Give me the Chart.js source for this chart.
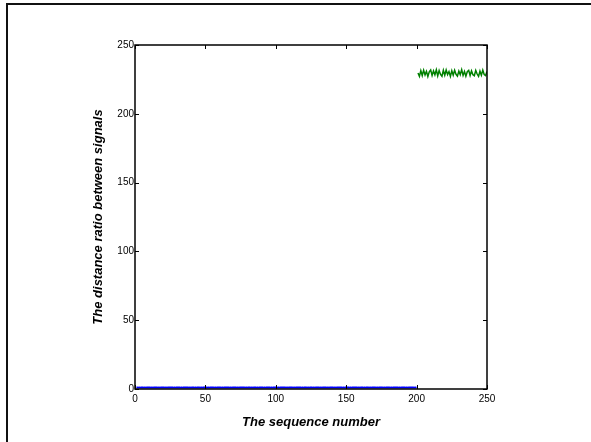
<!DOCTYPE html>
<html>
<head>
<meta charset="utf-8">
<script src="https://cdn.jsdelivr.net/npm/chart.js@4"></script>
<style>
html,body{margin:0;padding:0;background:#fff;overflow:hidden;}
#wrap{position:relative;width:591px;height:442px;}
#frame{position:absolute;left:6px;top:3px;width:600px;height:460px;border:2px solid #111;box-sizing:border-box;}
canvas{position:absolute;left:0;top:0;}
</style>
</head>
<body>
<div id="wrap">
<div id="frame"></div>
<canvas id="c" width="591" height="442"></canvas>
</div>
<script>
// Tick labels
const xTicks = [0, 50, 100, 150, 200, 250];
const yTicks = [0, 50, 100, 150, 200, 250];

// Blue series: sequence 1..200
const blueX = [];
for (let i = 1; i <= 200; i++) blueX.push(i);
const blueY = [
1.0,1.0,1.1,1.0,1.0,1.0,1.1,1.0,1.0,1.0,1.0,1.1,1.0,1.0,1.0,1.0,1.1,1.0,1.0,1.0,
1.0,1.1,1.0,1.0,1.0,1.0,1.0,1.1,1.0,1.0,1.0,1.0,1.1,1.0,1.0,1.0,1.0,1.0,1.1,1.0,
1.0,1.0,1.1,1.0,1.0,1.0,1.1,1.0,1.0,1.0,1.0,1.1,1.0,1.0,1.0,1.0,1.1,1.0,1.0,1.0,
1.0,1.1,1.0,1.0,1.0,1.0,1.0,1.1,1.0,1.0,1.0,1.0,1.1,1.0,1.0,1.0,1.0,1.0,1.1,1.0,
1.0,1.0,1.1,1.0,1.0,1.0,1.1,1.0,1.0,1.0,1.0,1.1,1.0,1.0,1.0,1.0,1.1,1.0,1.0,1.0,
1.0,1.1,1.0,1.0,1.0,1.0,1.0,1.1,1.0,1.0,1.0,1.0,1.1,1.0,1.0,1.0,1.0,1.0,1.1,1.0,
1.0,1.0,1.1,1.0,1.0,1.0,1.1,1.0,1.0,1.0,1.0,1.1,1.0,1.0,1.0,1.0,1.1,1.0,1.0,1.0,
1.0,1.1,1.0,1.0,1.0,1.0,1.0,1.1,1.0,1.0,1.0,1.0,1.1,1.0,1.0,1.0,1.0,1.0,1.1,1.0,
1.0,1.0,1.1,1.0,1.0,1.0,1.1,1.0,1.0,1.0,1.0,1.1,1.0,1.0,1.0,1.0,1.1,1.0,1.0,1.0,
1.0,1.1,1.0,1.0,1.0,1.0,1.0,1.1,1.0,1.0,1.0,1.0,1.1,1.0,1.0,1.0,1.0,1.0,1.1,1.0
];

// Green series: sequence 201..250
const greenX = [];
for (let i = 201; i <= 250; i++) greenX.push(i);
const greenY = [
229.6,227.2,231.4,227.8,231.7,228.3,230.9,227.1,230.5,231.9,
227.9,231.2,228.4,232.0,227.5,231.4,228.6,227.3,231.6,228.0,
231.8,228.5,230.7,227.2,231.3,228.1,231.7,228.7,227.4,231.0,
228.5,232.1,227.9,230.8,227.3,230.6,231.6,227.8,231.2,228.4,
227.7,231.5,228.9,227.2,231.0,228.1,231.8,228.5,227.8,230.7
];

const blueData = blueX.map((x, i) => ({x: x, y: blueY[i]}));
const greenData = greenX.map((x, i) => ({x: x, y: greenY[i]}));

const FONT = "'Liberation Sans', Arial, sans-serif";

const boxTicks = {
  id: 'boxTicks',
  afterDraw(chart) {
    const {ctx, chartArea: a, scales} = chart;
    ctx.save();
    ctx.strokeStyle = '#000';
    ctx.lineWidth = 1;
    const L = 4;
    ctx.beginPath();
    xTicks.forEach(v => {
      const px = Math.round(scales.x.getPixelForValue(v)) + 0.5;
      ctx.moveTo(px, a.bottom); ctx.lineTo(px, a.bottom - L);
      ctx.moveTo(px, a.top); ctx.lineTo(px, a.top + L);
    });
    yTicks.forEach(v => {
      const py = Math.round(scales.y.getPixelForValue(v)) + 0.5;
      ctx.moveTo(a.left, py); ctx.lineTo(a.left + L, py);
      ctx.moveTo(a.right, py); ctx.lineTo(a.right - L, py);
    });
    ctx.stroke();
    ctx.lineWidth = 1.5;
    ctx.strokeRect(a.left, a.top, a.right - a.left, a.bottom - a.top);
    ctx.restore();
  }
};

new Chart(document.getElementById('c'), {
  type: 'line',
  data: {
    datasets: [
      {data: greenData, borderColor: '#008000', borderWidth: 1.5, pointRadius: 0, tension: 0},
      {data: blueData, borderColor: '#0000ff', borderWidth: 2, pointRadius: 0, tension: 0}
    ]
  },
  options: {
    responsive: false,
    animation: false,
    layout: {padding: {left: 91, right: 104, top: 45, bottom: 12}},
    plugins: {legend: {display: false}, tooltip: {enabled: false}},
    scales: {
      x: {
        type: 'linear', min: 0, max: 250,
        afterBuildTicks: s => { s.ticks = xTicks.map(v => ({value: v})); },
        afterFit: s => { s.height = 41; },
        grid: {display: false, drawTicks: false},
        border: {display: false},
        ticks: {color: '#000', font: {family: FONT, size: 10}, padding: 4, maxRotation: 0},
        title: {display: true, text: 'The sequence number', color: '#000',
                font: {family: FONT, size: 13, weight: 'bold', style: 'italic'}, padding: {top: 5, bottom: 0}}
      },
      y: {
        type: 'linear', min: 0, max: 250,
        afterBuildTicks: s => { s.ticks = yTicks.map(v => ({value: v})); },
        afterFit: s => { s.width = 44; },
        grid: {display: false, drawTicks: false},
        border: {display: false},
        ticks: {color: '#000', font: {family: FONT, size: 10}, padding: 1},
        title: {display: true, text: 'The distance ratio between signals', color: '#000',
                font: {family: FONT, size: 13, weight: 'bold', style: 'italic'}, padding: 0}
      }
    }
  },
  plugins: [boxTicks]
});
</script>
</body>
</html>
